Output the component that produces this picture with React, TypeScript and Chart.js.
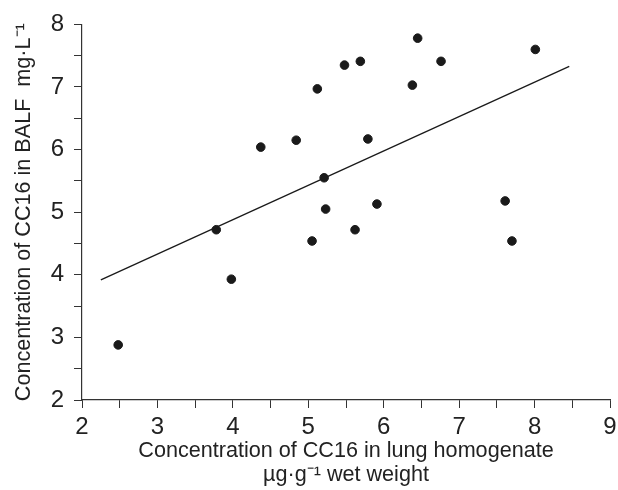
import React, { useEffect, useRef } from "react";
import { Chart, registerables } from "chart.js";

Chart.register(...registerables);

const lungCC16: number[] = [2.48, 3.78, 3.98, 4.37, 4.84, 5.05, 5.12, 5.21, 5.23, 5.48, 5.62, 5.69, 5.79, 5.91, 6.38, 6.45, 6.76, 7.61, 7.70, 8.01];
const balfCC16: number[] = [2.88, 4.72, 3.93, 6.04, 6.15, 4.54, 6.97, 5.55, 5.05, 7.35, 4.72, 7.41, 6.17, 5.13, 7.03, 7.78, 7.41, 5.18, 4.54, 7.60];
const fitX: number[] = [2.25, 8.46];
const fitY: number[] = [3.92, 7.33];
const xTitle: string[] = ["Concentration of CC16 in lung homogenate", "\u00b5g\u00b7g\u207b\u00b9 wet weight"];
const yTitle = "Concentration of CC16 in BALF  mg\u00b7L\u207b\u00b9";

const FONT = "'Liberation Sans Narrow', 'Liberation Sans', Arial, sans-serif";

export default function App() {
  const ref = useRef<HTMLCanvasElement | null>(null);
  useEffect(() => {
    document.body.style.margin = "0";
    if (!ref.current) return;
    const points = lungCC16.map((x, i) => ({ x, y: balfCC16[i] }));
    const fit = fitX.map((x, i) => ({ x, y: fitY[i] }));
    const chart = new Chart(ref.current, {
      type: "scatter",
      data: {
        datasets: [
          {
            data: points,
            backgroundColor: "#1a1a1a",
            borderColor: "#1a1a1a",
            pointRadius: 4.3,
            pointHoverRadius: 4.3,
          },
          {
            type: "line",
            data: fit,
            showLine: true,
            borderColor: "#1a1a1a",
            borderWidth: 1.3,
            pointRadius: 0,
            fill: false,
          } as any,
        ],
      },
      options: {
        animation: false,
        responsive: false,
        maintainAspectRatio: false,
        layout: { padding: { left: 0, top: 24, right: 0, bottom: 0 } },
        plugins: { legend: { display: false }, tooltip: { enabled: false } },
        scales: {
          x: {
            type: "linear",
            min: 2,
            max: 9,
            afterFit: (s: any) => {
              s.height = 90;
              s.paddingRight = 8;
              s.paddingLeft = 0;
            },
            ticks: {
              stepSize: 0.5,
              autoSkip: false,
              maxRotation: 0,
              color: "#222",
              padding: 5,
              font: { family: FONT, size: 24 },
              callback: (v: any) => (Number.isInteger(v) ? String(v) : ""),
            },
            grid: { drawOnChartArea: false, tickLength: 8, color: "#333", lineWidth: 1 },
            border: { color: "#333", width: 1.2 },
            title: {
              display: true,
              text: xTitle,
              color: "#222",
              font: { family: FONT, size: 21.6, lineHeight: 1.12 },
              padding: { top: 0, bottom: 3 },
            },
          },
          y: {
            type: "linear",
            min: 2,
            max: 8,
            afterFit: (s: any) => { s.width = 82; },
            ticks: {
              stepSize: 0.5,
              autoSkip: false,
              color: "#222",
              padding: 10,
              font: { family: FONT, size: 24 },
              callback: (v: any) => (Number.isInteger(v) ? String(v) : ""),
            },
            grid: { drawOnChartArea: false, tickLength: 8, color: "#333", lineWidth: 1 },
            border: { color: "#333", width: 1.2 },
            title: {
              display: true,
              text: yTitle,
              color: "#222",
              font: { family: FONT, size: 21.6 },
              padding: { top: 11, bottom: 0 },
            },
          },
        },
      },
    });
    return () => chart.destroy();
  }, []);
  return (
    <div style={{ width: 618, height: 490, position: "relative", background: "#fff" }}>
      <canvas ref={ref} width={618} height={490} style={{ width: 618, height: 490, display: "block" }} />
    </div>
  );
}
